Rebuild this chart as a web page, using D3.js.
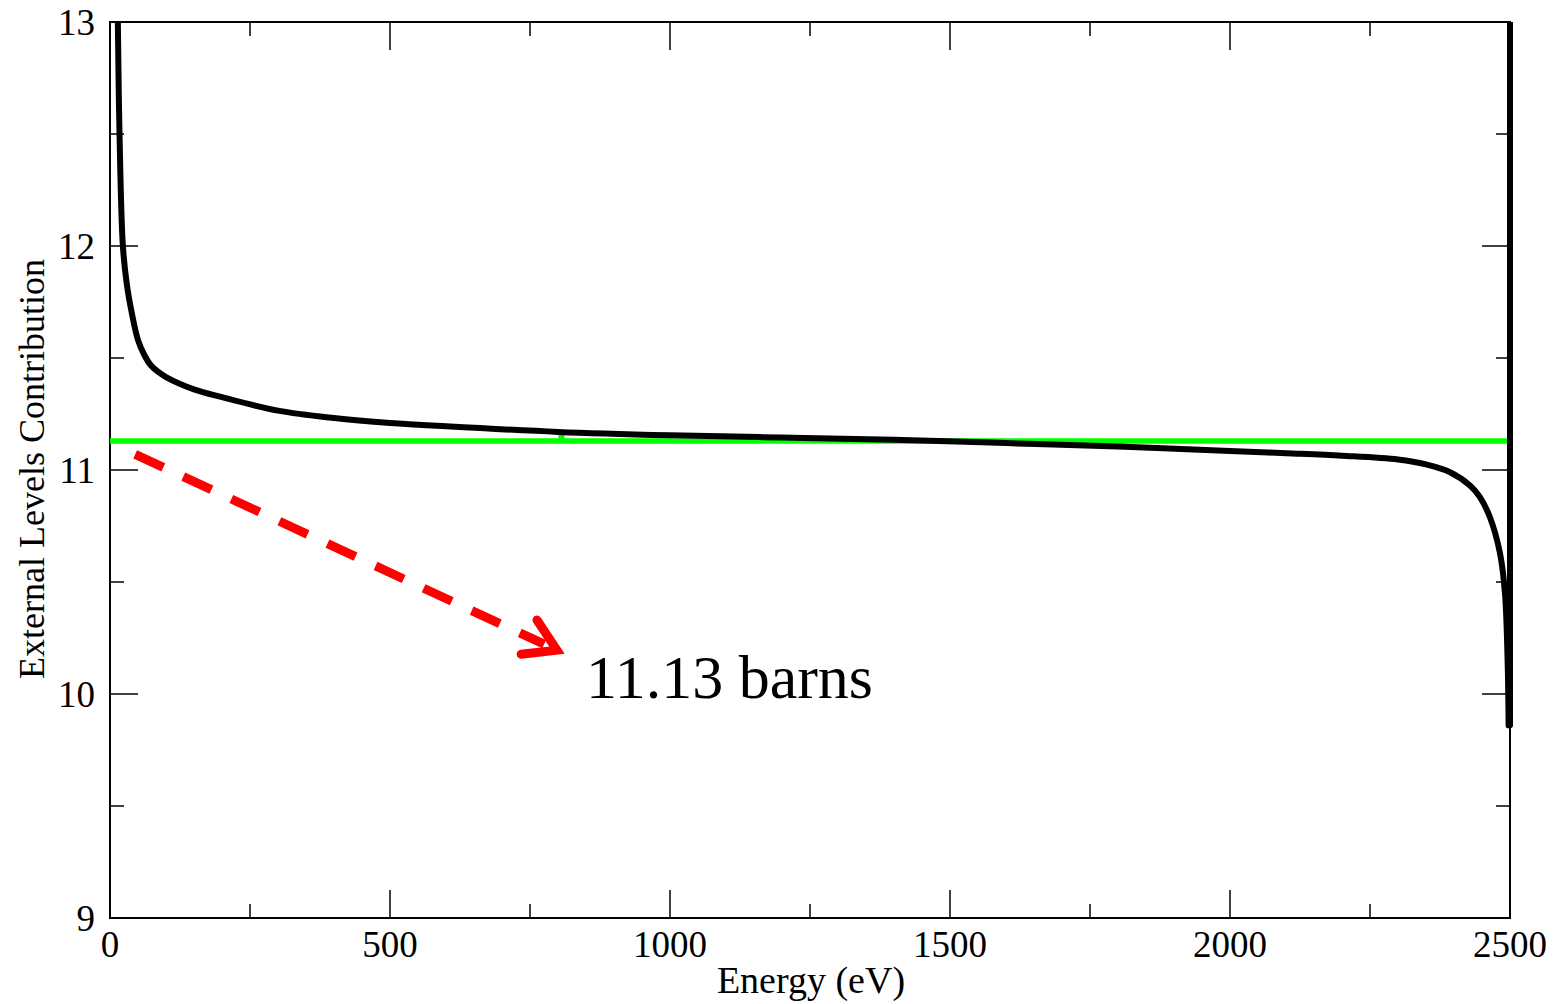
<!DOCTYPE html>
<html>
<head>
<meta charset="utf-8">
<script src="https://cdnjs.cloudflare.com/ajax/libs/d3/7.8.5/d3.min.js"></script>
<style>
  body { margin: 0; background: #fff; }
  text { font-family: "Liberation Serif", "Times New Roman", serif; fill: #000; }
</style>
</head>
<body>
<script>
// energy (eV) and external levels contribution
var energy = [12, 14, 17, 23, 30, 39, 50, 62, 72, 85, 100, 150, 200, 300, 400, 500, 600,
  800, 1000, 1200, 1400, 1600, 1800, 2000, 2100, 2200, 2300, 2350, 2393, 2429, 2446, 2464,
  2482, 2491, 2496, 2497.5, 2500, 2500];
var contribution = [13.4, 13.0, 12.5, 12.0, 11.83, 11.7, 11.58, 11.51, 11.47, 11.44, 11.415,
  11.36, 11.325, 11.265, 11.232, 11.21, 11.195, 11.17, 11.155, 11.145, 11.135,
  11.12, 11.105, 11.085, 11.075, 11.064, 11.047, 11.025, 10.99, 10.93, 10.88, 10.79, 10.63,
  10.45, 10.12, 9.86, 9.86, 13.5];

var avgValue = 11.13;
var markerPoint = [806, 11.145];
var arrowFrom = [45, 11.07], arrowTo = [798, 10.196];
var label = "11.13 barns";

var xTicks = [0, 500, 1000, 1500, 2000, 2500];
var yTicks = [9, 10, 11, 12, 13];

var W = 1563, H = 1004;
var margin = {top: 22, right: 53, bottom: 86, left: 110};
var width = W - margin.left - margin.right,
    height = H - margin.top - margin.bottom;

var svg = d3.select("body").append("svg")
    .attr("width", W)
    .attr("height", H);

var x = d3.scaleLinear().domain([0, 2500]).range([0, width]);
var y = d3.scaleLinear().domain([9, 13]).range([height, 0]);

var g = svg.append("g")
    .attr("transform", "translate(" + margin.left + "," + margin.top + ")");

// clip only top/bottom so the line at 2500 keeps its full width
g.append("clipPath").attr("id", "clip")
  .append("rect").attr("x", -10).attr("width", width + 20).attr("height", height);

// ticks (inward on all four sides)
var xMinor = d3.range(250, 2500, 500), yMinor = d3.range(9.5, 13, 1);
function tickLines(vals, len, horiz) {
  vals.forEach(function(v) {
    if (horiz) {
      g.append("line").attr("x1", x(v)).attr("x2", x(v)).attr("y1", height).attr("y2", height - len)
        .attr("stroke", "#000").attr("stroke-width", 1.5);
      g.append("line").attr("x1", x(v)).attr("x2", x(v)).attr("y1", 0).attr("y2", len)
        .attr("stroke", "#000").attr("stroke-width", 1.5);
    } else {
      g.append("line").attr("y1", y(v)).attr("y2", y(v)).attr("x1", 0).attr("x2", len)
        .attr("stroke", "#000").attr("stroke-width", 1.5);
      g.append("line").attr("y1", y(v)).attr("y2", y(v)).attr("x1", width).attr("x2", width - len)
        .attr("stroke", "#000").attr("stroke-width", 1.5);
    }
  });
}
tickLines(xTicks.slice(1, -1), 28, true);
tickLines(xMinor, 14, true);
tickLines(yTicks.slice(1, -1), 28, false);
tickLines(yMinor, 14, false);

// frame
g.append("rect").attr("width", width).attr("height", height)
  .attr("fill", "none").attr("stroke", "#000").attr("stroke-width", 2);

// tick labels
g.selectAll(".xl").data(xTicks).enter().append("text")
  .attr("x", function(d) { return x(d); })
  .attr("y", height + 39)
  .attr("text-anchor", "middle")
  .style("font-size", "37px")
  .text(function(d) { return d; });

g.selectAll(".yl").data(yTicks).enter().append("text")
  .attr("x", -15)
  .attr("y", function(d) { return y(d); })
  .attr("dy", "0.34em")
  .attr("text-anchor", "end")
  .style("font-size", "37px")
  .text(function(d) { return d; });

// axis titles
svg.append("text")
  .attr("x", 811)
  .attr("y", 993)
  .attr("text-anchor", "middle")
  .style("font-size", "38px")
  .text("Energy (eV)");

svg.append("text")
  .attr("transform", "translate(44,469) rotate(-90)")
  .attr("text-anchor", "middle")
  .style("font-size", "36px")
  .text("External Levels Contribution");

// average line
g.append("line")
  .attr("x1", 0).attr("x2", width)
  .attr("y1", y(avgValue)).attr("y2", y(avgValue))
  .attr("stroke", "#00ff00").attr("stroke-width", 5.5);

g.append("rect")
  .attr("x", x(markerPoint[0]) - 3).attr("y", y(markerPoint[1]) - 3)
  .attr("width", 6).attr("height", 7)
  .attr("fill", "#00ff00");

// curve: smooth part, then the straight jump at the pole
var pts = energy.map(function(e, i) { return [e, contribution[i]]; });
var nSmooth = pts.length - 2;

var smooth = d3.line()
  .x(function(d) { return x(d[0]); })
  .y(function(d) { return y(d[1]); })
  .curve(d3.curveCatmullRom.alpha(0.5));
var straight = d3.line()
  .x(function(d) { return x(d[0]); })
  .y(function(d) { return y(d[1]); });

g.append("path")
  .attr("clip-path", "url(#clip)")
  .attr("d", smooth(pts.slice(0, nSmooth)) + straight(pts.slice(nSmooth - 1)).replace("M", "L"))
  .attr("fill", "none")
  .attr("stroke", "#000")
  .attr("stroke-width", 6)
  .attr("stroke-linejoin", "round");

// red dashed arrow
var ax1 = x(arrowFrom[0]), ay1 = y(arrowFrom[1]), ax2 = x(arrowTo[0]), ay2 = y(arrowTo[1]);
var ang = Math.atan2(ay2 - ay1, ax2 - ax1);
var back = 14;
g.append("line")
  .attr("x1", ax1).attr("y1", ay1)
  .attr("x2", ax2 - back * Math.cos(ang)).attr("y2", ay2 - back * Math.sin(ang))
  .attr("stroke", "#ff0000").attr("stroke-width", 9)
  .attr("stroke-dasharray", "31,22");

var headLen = 36, spread = 0.55;
var p1 = [ax2 - headLen * Math.cos(ang - spread), ay2 - headLen * Math.sin(ang - spread)];
var p2 = [ax2 - headLen * Math.cos(ang + spread), ay2 - headLen * Math.sin(ang + spread)];
g.append("path")
  .attr("d", "M" + p1 + "L" + [ax2, ay2] + "L" + p2)
  .attr("fill", "none").attr("stroke", "#ff0000").attr("stroke-width", 9)
  .attr("stroke-linecap", "round").attr("stroke-linejoin", "miter");

// annotation text
svg.append("text")
  .attr("x", 586)
  .attr("y", 698)
  .style("font-size", "62px")
  .text(label);
</script>
</body>
</html>
